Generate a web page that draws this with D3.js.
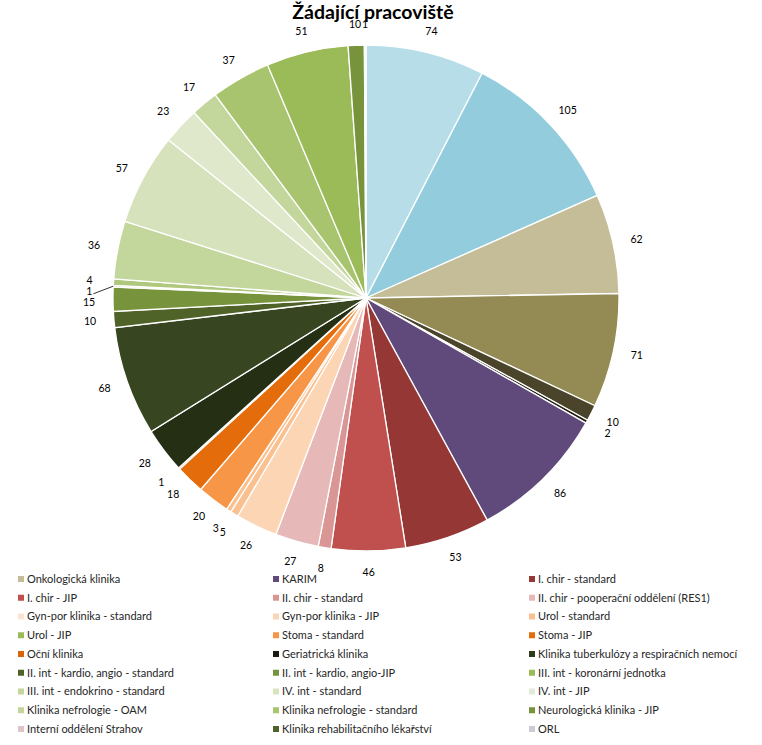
<!DOCTYPE html>
<head>
<meta charset="utf-8">
<script src="https://d3js.org/d3.v7.min.js"></script>
<style>

body {
  margin: 0;
  background: white;
  font-family: Lato, 'Open Sans', sans-serif;
}

.title {
  font-size: 19.5px;
  font-weight: bold;
  fill: #000;
}

.slice {
  stroke: white;
  stroke-width: 1.3;
}

.slice_label {
  font-size: 10.5px;
  fill: #000;
}

.leader {
  stroke: #000;
  stroke-width: 0.8;
}

.legend_text {
  font-size: 11px;
  fill: #262626;
}

</style>
</head>

<body>
  <div id="plotContainer"></div>
<script>

// slices clockwise from 12 o'clock
var values = [74, 105, 62, 71, 10, 2, 86, 53, 46, 8, 27, 26, 5, 3, 20, 18, 1,
              28, 68, 10, 15, 1, 4, 36, 57, 23, 17, 37, 51, 10, 1];

var sliceColors = ["#B7DEE8", "#93CDDD", "#C4BD97", "#948A54", "#4A452A", "#1D1B10",
                   "#604A7B", "#953735", "#C0504D", "#D99694", "#E6B9B8", "#FCD5B5",
                   "#FAC090", "#FAC090", "#F79646", "#E46C0A", "#984807", "#252F14",
                   "#374520", "#4F6228", "#77933C", "#9BBB59", "#AFC87E", "#C3D69B",
                   "#D5E2BB", "#DFE8CB", "#C3D69B", "#A9C46F", "#9BBB59", "#77933C",
                   "#EBF1DE"];

// legend entries as shown (the list is cut off at the bottom of the chart)
var legendNames = ["Onkologická klinika", "KARIM", "I. chir - standard",
                   "I. chir - JIP", "II. chir - standard", "II. chir - pooperační oddělení (RES1)",
                   "Gyn-por klinika - standard", "Gyn-por klinika - JIP", "Urol - standard",
                   "Urol - JIP", "Stoma - standard", "Stoma - JIP",
                   "Oční klinika", "Geriatrická klinika", "Klinika tuberkulózy a respiračních nemocí",
                   "II. int - kardio, angio - standard", "II. int - kardio, angio-JIP", "III. int - koronární jednotka",
                   "III. int - endokrino - standard", "IV. int - standard", "IV. int - JIP",
                   "Klinika nefrologie - OAM", "Klinika nefrologie - standard", "Neurologická klinika - JIP",
                   "Interní oddělení Strahov", "Klinika rehabilitačního lékařství", "ORL"];

var legendColors = ["#C4BD97", "#604A7B", "#953735",
                    "#C0504D", "#D99694", "#E6B9B8",
                    "#FDE3CF", "#FCD5B5", "#FAC090",
                    "#9BBB59", "#F79646", "#E46C0A",
                    "#D9650A", "#1D1B10", "#2F3A1A",
                    "#4F6228", "#77933C", "#9BBB59",
                    "#C3D69B", "#D7E4BD", "#E4EAD8",
                    "#C3D69B", "#A8C46C", "#77933C",
                    "#DDC5CB", "#4F6228", "#CCCCD6"];

var width = 762, height = 745;
var cx = 366, cy = 298, radius = 253;
var labelRx = 277, labelRy = 274;

var svg = d3.select("#plotContainer")
    .append("svg")
    .attr("width", width)
    .attr("height", height);

svg.append("text")
    .attr("class", "title")
    .attr("x", 373)
    .attr("y", 19)
    .attr("text-anchor", "middle")
    .text("Žádající pracoviště");

var pie = d3.pie().sort(null).value(function(d) { return d; });
var arcs = pie(values);

var arc = d3.arc().innerRadius(0).outerRadius(radius);

var g = svg.append("g")
    .attr("transform", "translate(" + cx + "," + cy + ")");

g.selectAll("path")
    .data(arcs)
    .enter()
    .append("path")
    .attr("class", "slice")
    .attr("d", arc)
    .attr("fill", function(d, i) { return sliceColors[i]; });

/* labels outside end */
var labels = arcs.map(function(d, i) {
    var mid = (d.startAngle + d.endAngle) / 2;
    return {
        value: d.data,
        mid: mid,
        x: labelRx * Math.sin(mid),
        y: -labelRy * Math.cos(mid),
        y0: -labelRy * Math.cos(mid)
    };
});

var labelNodes = g.selectAll(".slice_label")
    .data(labels)
    .enter()
    .append("text")
    .attr("class", "slice_label")
    .attr("text-anchor", "middle")
    .attr("dy", "0.35em")
    .text(function(d) { return d.value; });

labelNodes.each(function(d) { d.w = this.getComputedTextLength(); });

// push overlapping labels apart, like excel does
var right = labels.filter(function(d) { return d.mid <= Math.PI; });
var left = labels.filter(function(d) { return d.mid > Math.PI; }).reverse();

function spread(list) {
    for (var i = 1; i < list.length; i++) {
        var a = list[i - 1], b = list[i];
        var dx = b.x - a.x, half = (a.w + b.w) / 2;
        if (Math.abs(b.y - a.y) >= 11) continue;
        if (Math.abs(dx) < half - 2) {
            b.y = a.y + 11;
        } else if (Math.abs(dx) < half + 1) {
            b.x = a.x + (dx < 0 ? -1 : 1) * (half + 1);
        }
    }
}
spread(right);
spread(left);

labelNodes
    .attr("x", function(d) { return d.x; })
    .attr("y", function(d) { return d.y; });

g.selectAll(".leader")
    .data(labels.filter(function(d) { return Math.abs(d.y - d.y0) > 4; }))
    .enter()
    .append("line")
    .attr("class", "leader")
    .attr("x1", function(d) { return d.x + (d.x < 0 ? d.w / 2 + 1 : -d.w / 2 - 1); })
    .attr("y1", function(d) { return d.y + 2; })
    .attr("x2", function(d) { return radius * Math.sin(d.mid); })
    .attr("y2", function(d) { return -radius * Math.cos(d.mid); });

/* legend */
var colX = [18, 273, 529];
var rowY0 = 579, rowStep = 18.75;

var legend = svg.append("g").attr("class", "legend");

var items = legend.selectAll("g")
    .data(legendNames)
    .enter()
    .append("g")
    .attr("transform", function(d, i) {
        return "translate(" + colX[i % 3] + "," + (rowY0 + Math.floor(i / 3) * rowStep) + ")";
    });

items.append("rect")
    .attr("x", 0)
    .attr("y", -3)
    .attr("width", 6)
    .attr("height", 6)
    .attr("fill", function(d, i) { return legendColors[i]; });

items.append("text")
    .attr("class", "legend_text")
    .attr("x", 9)
    .attr("dy", "0.35em")
    .text(function(d) { return d; });

</script>
</body>
